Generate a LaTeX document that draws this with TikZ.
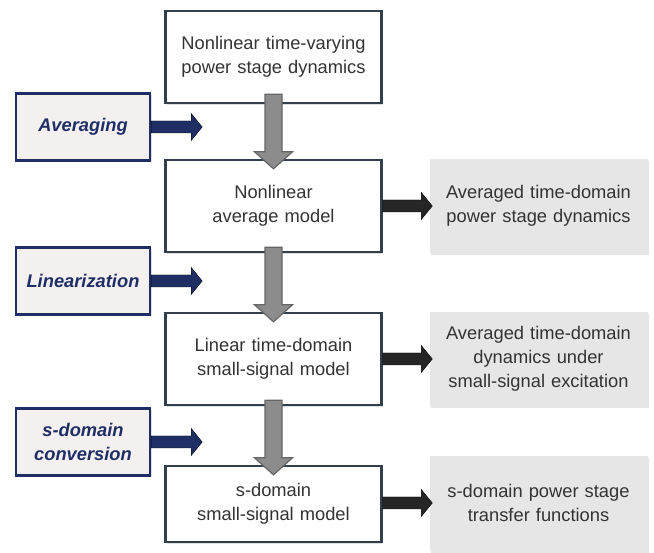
\documentclass[tikz,border=0pt]{standalone}
\usepackage{fontspec}
\setmainfont{Liberation Sans}
\usetikzlibrary{positioning,calc,shadows}
\definecolor{boxline}{HTML}{343F4D}
\definecolor{navy}{HTML}{1F2F66}
\definecolor{opfill}{HTML}{F4F0F0}
\definecolor{resfill}{HTML}{E6E6E6}
\definecolor{txt}{HTML}{333333}
\tikzset{
  model/.style={draw=boxline,line width=2.4pt,fill=white,align=center,text width=205pt,minimum width=216pt,minimum height=92pt,
    inner sep=0pt,text=txt,font=\fontsize{18.3}{24}\selectfont,drop shadow={shadow xshift=1.5pt,shadow yshift=-2pt,opacity=.25}},
  op/.style={draw=navy,line width=2.4pt,fill=opfill,align=center,text width=128pt,minimum width=134pt,minimum height=67pt,
    inner sep=0pt,text=navy,font=\fontsize{18.3}{24}\selectfont\bfseries\itshape,drop shadow={shadow xshift=1.5pt,shadow yshift=-2pt,opacity=.25}},
  result/.style={fill=resfill,align=center,text width=210pt,minimum width=218pt,minimum height=94pt,
    inner sep=0pt,text=txt,font=\fontsize{18.3}{24}\selectfont,drop shadow={shadow xshift=1.5pt,shadow yshift=-2.5pt,opacity=.2}},
  fatdown/.style={to path={let \p1=(\tikztostart),\p2=(\tikztotarget) in
    (\x1-8.5pt,\y1) -- (\x1+8.5pt,\y1) -- (\x1+8.5pt,\y2+17pt) -- (\x1+19pt,\y2+17pt) -- (\x1,\y2)
    -- (\x1-19pt,\y2+17pt) -- (\x1-8.5pt,\y2+17pt) -- cycle}},
  fatright/.style={to path={let \p1=(\tikztostart),\p2=(\tikztotarget) in
    (\x1,\y1-6pt) -- (\x2-11pt,\y1-6pt) -- (\x2-11pt,\y1-13.5pt) -- (\x2,\y1) -- (\x2-11pt,\y1+13.5pt)
    -- (\x2-11pt,\y1+6pt) -- (\x1,\y1+6pt) -- cycle}},
  stepdown/.style={fatdown,fill=black!45,draw=black!60,line width=1.2pt},
  apply/.style={fatright,fill=navy},
  gives/.style={fatright,fill=black!85}
}
\begin{document}
\begin{tikzpicture}[x=1pt,y=1pt]
  \useasboundingbox (0,0) rectangle (654,-553);
  % model chain
  \node[model] (nltv) at (273.5,-57) {Nonlinear time-varying\\power stage dynamics};
  \node[model,below=54.6pt of nltv] (avg) {Nonlinear\\average model};
  \node[model,below=58.6pt of avg] (lin) {Linear time-domain\\small-signal model};
  \node[model,minimum height=76pt,below=58.6pt of lin] (sdom) {s-domain\\small-signal model};
  % operations
  \node[op] (opavg) at (83,-127) {Averaging};
  \node[op] (oplin) at (83,-281) {Linearization};
  \node[op] (opsdom) at (83,-442) {s-domain\\conversion};
  % results
  \node[result,right=46.6pt of avg] (resavg) {Averaged time-domain\\power stage dynamics};
  \node[result,right=46.6pt of lin] (reslin) {Averaged time-domain\\dynamics under\\small-signal excitation};
  \node[result,right=46.6pt of sdom,yshift=1pt] (ressdom) {s-domain power stage\\transfer functions};
  % arrows
  \draw[stepdown] ([yshift=10pt]nltv.south) to ([yshift=-10pt]avg.north);
  \draw[stepdown] ([yshift=6pt]avg.south) to ([yshift=-10pt]lin.north);
  \draw[stepdown] ([yshift=6pt]lin.south) to ([yshift=-10pt]sdom.north);
  \draw[apply] (opavg.east) to ([xshift=51pt]opavg.east);
  \draw[apply] (oplin.east) to ([xshift=51pt]oplin.east);
  \draw[apply] (opsdom.east) to ([xshift=51pt]opsdom.east);
  \draw[gives] (avg.east) to ([xshift=3pt]resavg.west);
  \draw[gives] (lin.east) to ([xshift=3pt]reslin.west);
  \draw[gives] (sdom.east |- ressdom.west) to ([xshift=3pt]ressdom.west);
\end{tikzpicture}
\end{document}
